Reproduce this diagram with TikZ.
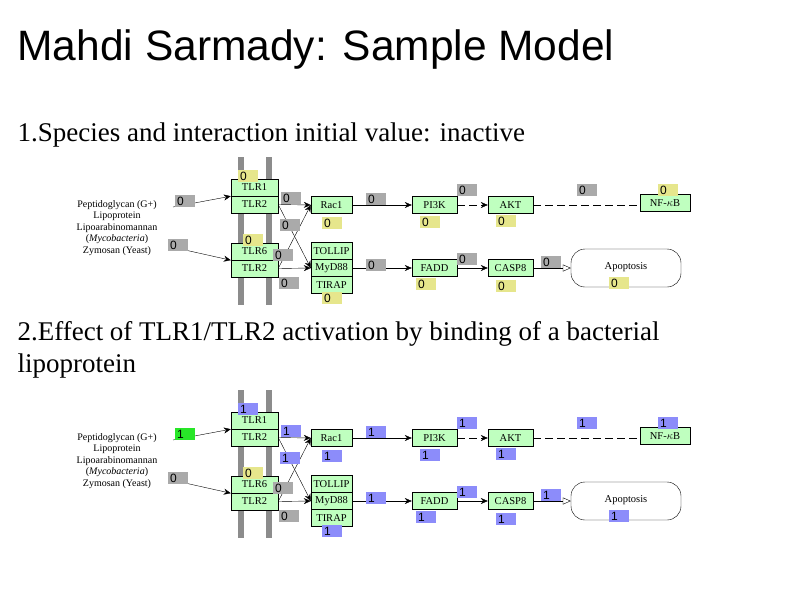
\documentclass[tikz,border=0pt]{standalone}
\usepackage{fontspec}
\setmainfont{Liberation Serif}
\newfontfamily\sansf{Liberation Sans}
\usetikzlibrary{arrows.meta}
\definecolor{boxgreen}{RGB}{191,255,191}
\definecolor{taggray}{RGB}{170,170,170}
\definecolor{tagyellow}{RGB}{230,230,140}
\definecolor{tagblue}{RGB}{140,140,250}
\definecolor{taggreen}{RGB}{40,230,40}
\definecolor{bargray}{RGB}{140,140,140}
\begin{document}
\begin{tikzpicture}[x=1pt,y=-1pt,
  box/.style={draw,fill=boxgreen,minimum height=17pt,inner sep=0pt,font=\fontsize{10.5}{11}\selectfont},
  tag/.style={fill=#1,minimum height=12pt,text width=16pt,inner sep=2pt,align=left,font=\sansf\fontsize{12}{12}\selectfont},
  act/.style={-{Stealth[length=7pt,width=6pt]}},
  opn/.style={-{Triangle[open,length=8pt,width=7pt]}},
  small/.style={font=\fontsize{10}{11.5}\selectfont,align=center}]
\useasboundingbox[fill=white] (0,0) rectangle (800,600);
\node[anchor=west,font=\sansf\fontsize{42.5}{44}\selectfont] (title) at (14,50) {Mahdi Sarmady: Sample Model};
\node[anchor=west,font=\fontsize{27}{32}\selectfont] (h1) at (14,135) {1.Species and interaction initial value: inactive};
\node[anchor=north west,align=left,font=\fontsize{27}{32}\selectfont] (h2) at (14,318) {2.Effect of TLR1/TLR2 activation by binding of a bacterial\\lipoprotein};
\foreach \p/\dy in {a/0,b/233}{
  \begin{scope}[yshift=-\dy pt]
  \fill[bargray] (238,157) rectangle (244,305);
  \fill[bargray] (266,157) rectangle (272,305);
  \node[small] (\p-in) at (117,228) {Peptidoglycan (G+)\\Lipoprotein\\Lipoarabinomannan\\(\textit{Mycobacteria})\\Zymosan (Yeast)};
  \coordinate (\p-in1) at (173,207);
  \coordinate (\p-in2) at (185,250);
  \node[box,minimum width=47pt] (\p-tlr1) at (254.5,187.5) {TLR1};
  \node[box,minimum width=47pt] (\p-tlr2) at (254.5,204.5) {TLR2};
  \node[box,minimum width=47pt] (\p-tlr6) at (254.5,251.5) {TLR6};
  \node[box,minimum width=47pt] (\p-tlr2b) at (254.5,268.5) {TLR2};
  \node[box,minimum width=41pt] (\p-rac) at (331.5,205) {Rac1};
  \node[box,minimum width=41pt] (\p-tol) at (331.5,251) {TOLLIP};
  \node[box,minimum width=41pt] (\p-myd) at (331.5,268) {MyD88};
  \node[box,minimum width=41pt] (\p-tir) at (331.5,285) {TIRAP};
  \node[box,minimum width=45pt] (\p-pi3k) at (434.5,205) {PI3K};
  \node[box,minimum width=45pt] (\p-akt) at (510.5,205) {AKT};
  \node[box,minimum width=50pt] (\p-nfkb) at (665,203) {NF-$\kappa$B};
  \node[box,minimum width=45pt] (\p-fadd) at (434.5,268) {FADD};
  \node[box,minimum width=45pt] (\p-casp) at (510.5,268) {CASP8};
  \node[draw,rounded corners=14pt,minimum width=110pt,minimum height=38pt,font=\fontsize{10.5}{11}\selectfont] (\p-apo) at (626,268) {\raisebox{3pt}{Apoptosis}};
  \draw[act] (\p-in1) -- (\p-tlr1.south west);
  \draw[act] (\p-in2) -- (\p-tlr6.south west);
  \draw[act] (\p-tlr2.east) -- (\p-rac.west);
  \draw[act] (\p-tlr2.east) -- (\p-myd.west);
  \draw[act] (\p-tlr2b.east) -- (\p-myd.west);
  \draw[act] (\p-tlr2b.east) -- (\p-rac.west);
  \draw[act] (\p-rac) -- (\p-pi3k);
  \draw[act,dash pattern=on 8pt off 4pt] (\p-pi3k) -- (\p-akt);
  \draw[dash pattern=on 8pt off 4pt] (\p-akt) -- (\p-nfkb.west |- \p-akt);
  \draw[act] (\p-myd) -- (\p-fadd);
  \draw[act] (\p-fadd) -- (\p-casp);
  \draw[opn] (\p-casp) -- (\p-apo);
  \end{scope}
}
% tags, upper panel
\foreach \x/\y/\c/\v in {185/201/taggray/0, 178/245/taggray/0, 248/176/tagyellow/0,
  291/198/taggray/0, 290/225/taggray/0, 253/240/tagyellow/0, 283/255/taggray/0,
  289/283/taggray/0, 332/223/tagyellow/0, 332/298/tagyellow/0, 376/199/taggray/0,
  376/265/taggray/0, 430/222/tagyellow/0, 506/221/tagyellow/0, 426/284/tagyellow/0,
  506/286/tagyellow/0, 619/283/tagyellow/0, 467/190/taggray/0, 587/190/taggray/0,
  668/190/tagyellow/0, 467/259/taggray/0, 551/262/taggray/0}
  \node[tag=\c] at (\x,\y) {\v};
% tags, lower panel
\foreach \x/\y/\c/\v in {185/434/taggreen/1, 178/478/taggray/0, 248/409/tagblue/1,
  291/431/tagblue/1, 290/458/tagblue/1, 253/473/tagyellow/0, 283/488/taggray/0,
  289/516/taggray/0, 332/456/tagblue/1, 332/531/tagblue/1, 376/432/tagblue/1,
  376/498/tagblue/1, 430/455/tagblue/1, 506/454/tagblue/1, 426/517/tagblue/1,
  506/519/tagblue/1, 619/516/tagblue/1, 467/423/tagblue/1, 587/423/tagblue/1,
  668/423/tagblue/1, 467/492/tagblue/1, 551/495/tagblue/1}
  \node[tag=\c] at (\x,\y) {\v};
\end{tikzpicture}
\end{document}
